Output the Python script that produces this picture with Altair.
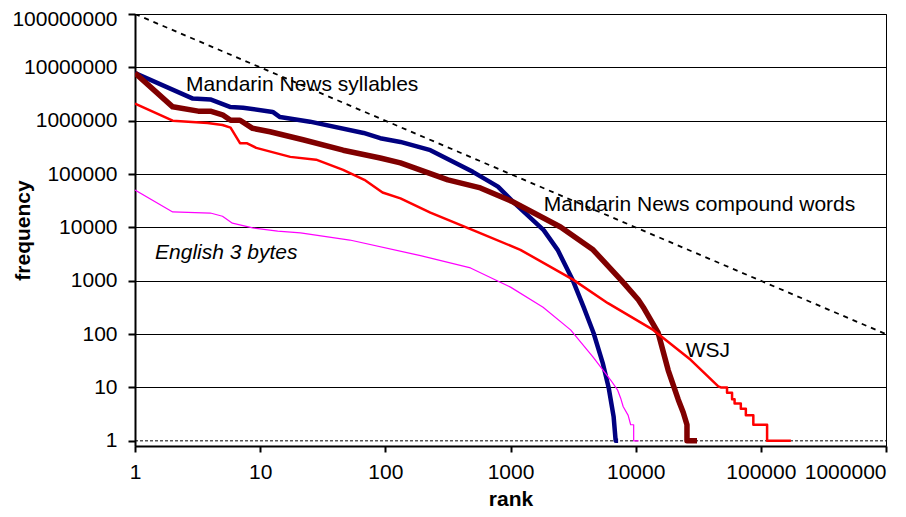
import altair as alt
import pandas as pd

# ---- data (rank, frequency) ----
syll_rank = [1, 2.9, 4, 5.8, 7.3, 12.6, 14.4, 25, 67, 91, 132, 229, 500, 794, 1050,
             1840, 2380, 3130, 3840, 4610, 5450, 6080, 6670, 6920, 7240]
syll_freq = [7800000, 2600000, 2500000, 1800000, 1750000, 1460000, 1170000, 960000, 590000,
             470000, 400000, 280000, 110000, 58000, 30000,
             8900, 3800, 1050, 320, 105, 29, 10, 2.8, 1, 1]

comp_rank = [1, 2, 3.2, 4, 5, 5.8, 6.9, 8.7, 12, 22, 46, 91, 132, 316, 575, 1050,
             2510, 4570, 7590, 10500, 11500, 15100, 18200, 21900, 24000, 25700, 25700, 30900]
comp_freq = [7800000, 1820000, 1510000, 1510000, 1290000, 1020000, 1020000, 720000, 620000,
             440000, 280000, 200000, 162000, 78000, 55000, 30000,
             10200, 3800, 1050, 440, 320, 107, 21, 5.9, 3.4, 2, 1, 1]

wsj_rank = [1, 2, 3.8, 5, 5.8, 6.9, 7.8, 9.3, 17.4, 28, 46, 68, 95, 132, 229, 560, 1200,
            3160, 6000, 13800, 27500, 45700, 47900,
            53700, 53700, 58900, 58900, 61700, 61700, 69200, 69200, 75900, 75900,
            87100, 87100, 112200, 112200, 173800]
wsj_freq = [2100000, 1000000, 910000, 830000, 740000, 380000, 380000, 310000, 210000, 186000,
            120000, 78000, 45000, 35000, 19000, 8000, 3800,
            1050, 380, 120, 33, 10.5, 10,
            10, 8, 8, 6, 6, 5, 5, 4, 4, 3,
            3, 2, 2, 1, 1]

eng_rank = [1, 2, 4, 5, 6, 8.7, 13.8, 21, 52, 191, 479, 1000, 1820, 3020, 4570, 6310,
            7180, 7590, 7940, 8710, 9120, 9640, 9640, 10570]
eng_freq = [50000, 19500, 18600, 16200, 12000, 9800, 8500, 7900, 5800, 2950, 1740, 760, 320,
            120, 37, 13.8, 8.9, 6.3, 4.4, 3, 2, 2, 1, 1]

zipf_rank = [1, 1000000]
zipf_freq = [100000000, 100]

x_ticks = [1, 10, 100, 1000, 10000, 100000, 1000000]
y_ticks = [1, 10, 100, 1000, 10000, 100000, 1000000, 10000000, 100000000]

label_text = ["Mandarin News syllables", "Mandarin News compound words", "WSJ"]
label_rank = [2.56, 1840, 25100]
label_freq = [4600000, 26000, 48]

italic_text = ["English 3 bytes"]
italic_rank = [1.445]
italic_freq = [3300]

FONT = "Liberation Sans"

xscale = alt.Scale(type="log", domain=[1, 1000000], nice=False)
yscale = alt.Scale(type="log", domain=[0.8, 100000000], nice=False)

xaxis = alt.Axis(
    values=x_ticks, format="d", title="rank",
    titleFontSize=21, titleFontWeight="bold", titleY=59, titleBaseline="alphabetic",
    labelFontSize=21, labelPadding=9, labelColor="black",
    labelFlush=False, labelOverlap=False,
    labelAlign={"condition": {"test": "datum.value == 1000000", "value": "right"}, "value": "center"},
    tickSize=6, tickWidth=2, tickColor="black",
    domainColor="black", domainWidth=2, grid=False,
)
yaxis = alt.Axis(
    values=y_ticks, format="d", title="frequency",
    titleFontSize=21, titleFontWeight="bold", titleX=-112, titleY=216,
    titleAngle=270, titleBaseline="middle", titleAlign="center",
    labelFontSize=21, labelPadding=11, labelColor="black",
    labelFlush=False, labelOverlap=False,
    tickSize=7, tickWidth=2, tickColor="black",
    domainColor="black", domainWidth=2,
    grid=True, gridColor="black", gridWidth=1,
    gridOpacity={"condition": {"test": "datum.value == 1", "value": 0}, "value": 1},
    labelOffset={"condition": {"test": "datum.value == 100000000", "value": 5}, "value": 0},
)


def enc(ch):
    return ch.encode(
        x=alt.X("rank:Q", scale=xscale, axis=xaxis),
        y=alt.Y("freq:Q", scale=yscale, axis=yaxis),
    )


def series(ranks, freqs, color, width, dash=None):
    df = pd.DataFrame({"rank": ranks, "freq": freqs, "i": list(range(len(ranks)))})
    kw = dict(color=color, strokeWidth=width, strokeJoin="round", clip=True)
    if dash:
        kw["strokeDash"] = dash
    return enc(alt.Chart(df).mark_line(**kw)).encode(order="i:Q")


one_line = alt.Chart(pd.DataFrame({"rank": [1], "rank2": [1000000], "freq": [1]})).mark_rule(
    color="black", strokeWidth=1, strokeDash=[3, 2]
).encode(
    x=alt.X("rank:Q", scale=xscale, axis=xaxis),
    x2="rank2:Q",
    y=alt.Y("freq:Q", scale=yscale, axis=yaxis),
)

zipf = series(zipf_rank, zipf_freq, "black", 1.8, [5, 5])
syll = series(syll_rank, syll_freq, "#000080", 4.5)
comp = series(comp_rank, comp_freq, "#800000", 5.5)
wsj = series(wsj_rank, wsj_freq, "#FF0000", 2.5)
eng = series(eng_rank, eng_freq, "#FF00FF", 1.2)

labels = enc(alt.Chart(pd.DataFrame({"rank": label_rank, "freq": label_freq, "t": label_text}))
             .mark_text(align="left", baseline="middle", fontSize=21, font=FONT, color="black")
             ).encode(text="t:N")
italic = enc(alt.Chart(pd.DataFrame({"rank": italic_rank, "freq": italic_freq, "t": italic_text}))
             .mark_text(align="left", baseline="middle", fontSize=21, font=FONT,
                        fontStyle="italic", color="black")
             ).encode(text="t:N")

chart = alt.layer(one_line, zipf, syll, comp, wsj, eng, labels, italic).properties(
    width=751, height=432,
    autosize=alt.AutoSizeParams(type="none"),
    padding={"left": 127, "top": 6, "right": 12, "bottom": 63},
    background="white",
).configure_view(
    stroke="black", strokeWidth=1
).configure_axis(
    labelFont=FONT, titleFont=FONT, titleColor="black"
)

chart.save("out.html", embed_options={"renderer": "svg", "actions": False})
